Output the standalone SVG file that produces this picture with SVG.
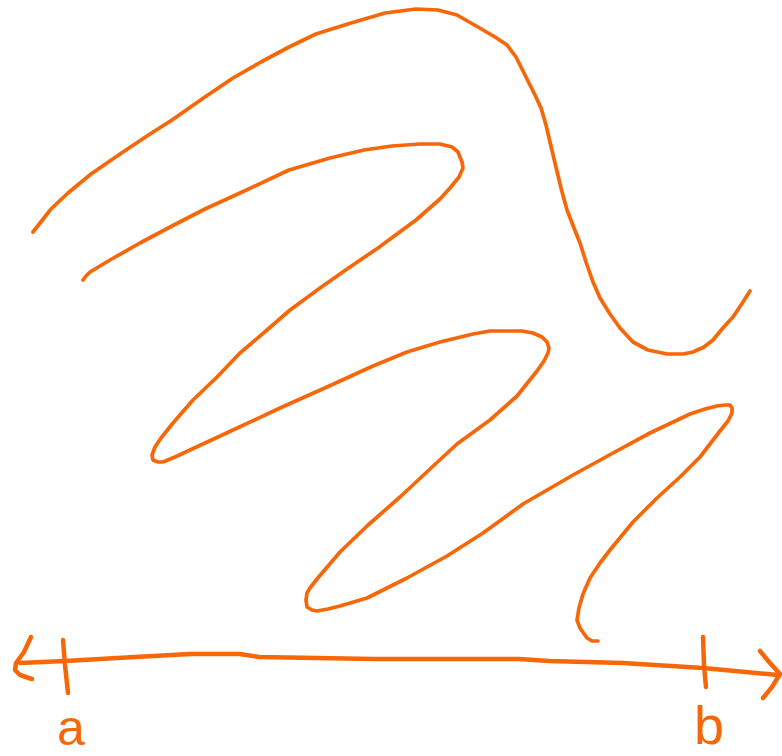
<svg xmlns="http://www.w3.org/2000/svg" width="782" height="756" viewBox="0 0 782 756">
<style>
.s{fill:none;stroke:#f76707;stroke-linecap:round;stroke-linejoin:round}
.c{stroke-width:3.7}
.ax{stroke-width:4.5}
.lbl{font-family:"Liberation Sans",Arial,sans-serif;fill:#f76707;text-anchor:middle}
</style>
<rect width="782" height="756" fill="#ffffff"/>
<g id="curve-top">
<polyline class="s c" points="33,232 51,209 68,193 91,174 123,152 150,134 172,120 202,99 233,78 261,62 289,47 316,34 351,23 385,13 416,9 438,10 457,15 478,27 495,37 507,45 516,57 525,75 535,95 541,108 546,125 550,142 555,163 561,188 567,210 574,228 580,243 586,262 593,282 600,298 610,314 620,328 633,342 648,350 667,354 683,354 693,352 704,347 713,340 722,329 733,317 741,305 750,291"/>
</g>
<g id="curve-zigzag">
<polyline class="s c" points="83,280 86,276 90,272 110,260 140,243 172,226 205,209 240,193 289,170 330,158 364,150 392,146 420,144 440,144 452,147 458,152 462,162 463,168 459,177 450,188 440,199 416,220 378,248 350,267 320,288 290,310 267,330 240,353 217,377 193,400 173,423 161,438 155,447 152,455 153,460 158,462 163,462 175,457 190,450 233,430 280,408 327,387 373,366 407,352 440,342 473,334 490,331 507,331 522,331 533,333 542,337 547,342 549,348 548,353 544,361 537,371 517,396 490,420 457,444 430,469 400,497 367,526 340,552 317,579 310,588 307,593 306,600 307,607 312,610 317,611 328,609 340,606 367,598 407,578 447,556 483,533 523,504 573,475 613,453 650,433 690,414 705,409 717,406 725,405 730,405 732,408 732,413 728,421 720,431 700,457 680,477 657,498 633,522 610,550 600,563 590,578 583,594 579,608 577,620 580,628 587,638 592,641 598,641"/>
</g>
<g id="axis">
<polyline class="s ax" points="20,663 65,661 135,657 190,654 240,654 259,657 374,659 519,659 549,661 623,663 703,668 778,675"/>
<polyline class="s ax" points="31,637 24,652 16,663 15,670 20,675 32,679"/>
<polyline class="s ax" points="760,651 770,663 780,674 772,687 763,698"/>
<polyline class="s ax" points="63,640 65,665 68,693"/>
<polyline class="s ax" points="703,637 704,665 706,687"/>
</g>
<g id="labels">
<text class="lbl" x="71" y="745" font-size="50">a</text>
<text class="lbl" x="709" y="744" font-size="54">b</text>
</g>
</svg>
